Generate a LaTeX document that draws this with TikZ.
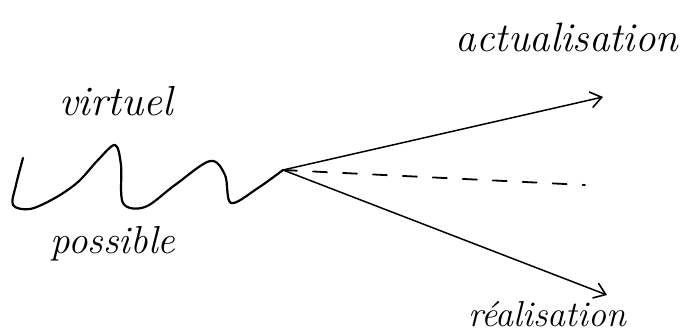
\documentclass[tikz,border=0pt]{standalone}
\usetikzlibrary{arrows.meta}
\begin{document}
\begin{tikzpicture}[x=1pt,y=-1pt,
  pen/.style={line width=2.2pt,line cap=round,line join=round},
  ray/.style={line width=1.5pt,line cap=round},
  tip/.style={-{Straight Barb[length=11pt,width=16pt,line width=1.6pt]}},
  word/.style={font=\itshape,inner sep=0pt}]
\useasboundingbox (0,0) rectangle (681,336);
\coordinate (O) at (283,170);
\coordinate (up) at (603,97);
\coordinate (mid) at (585,185);
\coordinate (down) at (607,295);
\draw[pen] plot[smooth,tension=0.55] coordinates {(23,158) (16,185) (13,205) (30,209) (55,198) (78,182) (98,160) (115,145) (121,165) (123,203) (145,207) (175,185) (210,161) (225,175) (231,203) (258,188) (283,170)};
\draw[ray,tip] (O) -- (up);
\draw[ray,dashed,dash pattern=on 14pt off 16pt,line width=1.8pt] (O) -- (mid);
\draw[ray,tip] (O) -- (down);
\node[word,font=\itshape\fontsize{42}{42}\selectfont] (virt) at (116,101) {virtuel};
\node[word,font=\itshape\fontsize{39}{39}\selectfont] (poss) at (113,244) {possible};
\node[word,font=\itshape\fontsize{41}{41}\selectfont] (act) at (567,37) {actualisation};
\node[word,font=\itshape\fontsize{36}{36}\selectfont] (real) at (547,314) {réalisation};
\end{tikzpicture}
\end{document}
